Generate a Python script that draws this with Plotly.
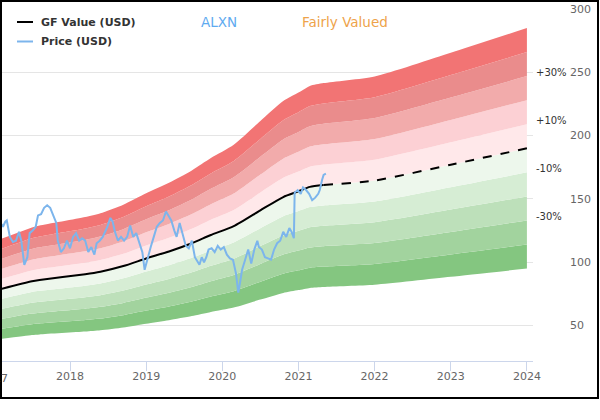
import plotly.graph_objects as go

# ---------------- data ----------------
gf_years = [2017.10, 2017.5, 2017.6, 2018.2, 2018.4, 2018.7, 2019.0, 2019.3, 2019.6,
            2019.85, 2020.15, 2020.5, 2020.8, 2021.0, 2021.15, 2021.33,
            2022.0, 2023.0, 2024.0]
gf_values = [79, 85, 86, 90.5, 92.5, 97, 103, 108.5, 115,
             121.5, 128.5, 141, 151.5, 156, 159.5, 161,
             164.5, 177, 190]
gf_split_year = 2021.33  # solid (history) -> dashed (projection)

price_years = [2017.08, 2017.12, 2017.15, 2017.17, 2017.21, 2017.25, 2017.29, 2017.33, 2017.36,
               2017.40, 2017.44, 2017.47, 2017.51, 2017.55, 2017.58, 2017.62, 2017.66, 2017.70,
               2017.74, 2017.78, 2017.82, 2017.84, 2017.88, 2017.92, 2017.96, 2018.00, 2018.04,
               2018.08, 2018.12, 2018.16, 2018.20, 2018.24, 2018.28, 2018.32, 2018.35, 2018.39,
               2018.43, 2018.49, 2018.53, 2018.56, 2018.59, 2018.63, 2018.67, 2018.71, 2018.75,
               2018.79, 2018.83, 2018.87, 2018.91, 2018.95, 2018.98, 2019.02, 2019.06, 2019.10,
               2019.14, 2019.18, 2019.22, 2019.26, 2019.29, 2019.33, 2019.37, 2019.40, 2019.44,
               2019.48, 2019.52, 2019.56, 2019.60, 2019.64, 2019.68, 2019.70, 2019.73, 2019.76,
               2019.79, 2019.82, 2019.86, 2019.90, 2019.94, 2019.98, 2020.02, 2020.06, 2020.10,
               2020.14, 2020.18, 2020.21, 2020.23, 2020.26, 2020.30, 2020.34, 2020.38, 2020.42,
               2020.46, 2020.48, 2020.52, 2020.56, 2020.60, 2020.64, 2020.68, 2020.72, 2020.76,
               2020.80, 2020.84, 2020.88, 2020.91, 2020.94, 2020.95, 2020.99, 2021.03, 2021.06,
               2021.10, 2021.14, 2021.18, 2021.22, 2021.26, 2021.28, 2021.31, 2021.33, 2021.36]
price_values = [132, 128, 132, 133, 120, 116, 117, 124, 117,
                98, 104, 123, 125, 128, 137, 138, 143, 145,
                143, 137, 131, 117, 108, 111, 117, 111, 120,
                123, 117, 119, 117, 108, 112, 106, 115, 117,
                120, 128, 135, 132, 124, 117, 120, 117, 120,
                129, 120, 123, 115, 108, 94, 104, 112, 120,
                128, 131, 133, 140, 137, 133, 125, 120, 131,
                121, 113, 111, 117, 104, 100, 98, 104, 100,
                104, 110, 111, 108, 113, 110, 112, 106, 103,
                102, 91, 76, 83, 94, 102, 110, 99, 110,
                117, 112, 110, 104, 103, 102, 110, 115, 117,
                124, 120, 127, 124, 119, 155, 157, 154, 159,
                157, 154, 149, 151, 154, 157, 165, 169, 170]

band_steps = [-0.5, -0.4, -0.3, -0.2, -0.1, 0.0, 0.1, 0.2, 0.3, 0.4, 0.5]
band_colors = ["#84c680", "#a2d39e", "#bde0ba", "#d6edd4", "#edf7ec",
               "#ffe8ea", "#fcd0d4", "#f2abab", "#ea8c8c", "#f27474"]
band_labels = {0.3: "+30%", 0.1: "+10%", -0.1: "-10%", -0.3: "-30%"}

x_ticks = [2018, 2019, 2020, 2021, 2022, 2023, 2024]
y_ticks = [50, 100, 150, 200, 250, 300]
x_range = [2017.107, 2024.08]
y_range = [22, 300]

title_ticker = "ALXN"
title_status = "Fairly Valued"

FONT = "DejaVu Sans"
W, H = 600, 400
ML, MR, MT, MB = 2, 67, 9, 39

fig = go.Figure()

# valuation bands
for i, step in enumerate(band_steps):
    ys = [v * (1 + step) for v in gf_values]
    fig.add_trace(go.Scatter(
        x=gf_years, y=ys, mode="lines",
        line=dict(width=0, shape="spline", smoothing=0.6),
        fill=None if i == 0 else "tonexty",
        fillcolor=None if i == 0 else band_colors[i - 1],
        hoverinfo="skip", showlegend=False))

# GF value line: solid history, dashed projection
hist_x = [x for x in gf_years if x <= gf_split_year]
hist_y = [v for x, v in zip(gf_years, gf_values) if x <= gf_split_year]
proj_x = [x for x in gf_years if x >= gf_split_year]
proj_y = [v for x, v in zip(gf_years, gf_values) if x >= gf_split_year]
fig.add_trace(go.Scatter(x=hist_x, y=hist_y, mode="lines",
                         line=dict(color="#000000", width=2, shape="spline", smoothing=0.6),
                         showlegend=False))
fig.add_trace(go.Scatter(x=proj_x, y=proj_y, mode="lines",
                         line=dict(color="#000000", width=2, dash="dash", shape="spline", smoothing=0.6),
                         showlegend=False))

# price line
fig.add_trace(go.Scatter(x=price_years, y=price_values, mode="lines",
                         line=dict(color="#7cb5ec", width=2),
                         showlegend=False))

pw = W - ML - MR
ph = H - MT - MB

annotations = []
shapes = []

# manual legend
legend_items = [("GF Value (USD)", "#000000"), ("Price (USD)", "#7cb5ec")]
for k, (name, col) in enumerate(legend_items):
    ypx = 22 + 19.5 * k
    yp = 1 - (ypx - MT) / ph
    shapes.append(dict(type="line", xref="paper", yref="paper",
                       x0=(17 - ML) / pw, x1=(33 - ML) / pw, y0=yp, y1=yp,
                       line=dict(color=col, width=2)))
    annotations.append(dict(text=name, xref="paper", yref="paper",
                            x=(39 - ML) / pw, y=yp, xanchor="left", yanchor="middle",
                            showarrow=False,
                            font=dict(family=FONT, size=11, color="#333333", weight="bold")))

# titles
yp_title = 1 - (22 - MT) / ph
annotations.append(dict(text=title_ticker, xref="paper", yref="paper",
                        x=(199 - ML) / pw, y=yp_title, xanchor="left", yanchor="middle",
                        showarrow=False, font=dict(family=FONT, size=13.5, color="#5eaaf0")))
annotations.append(dict(text=title_status, xref="paper", yref="paper",
                        x=(300 - ML) / pw, y=yp_title, xanchor="left", yanchor="middle",
                        showarrow=False, font=dict(family=FONT, size=13.5, color="#eea34a")))

# band labels at right end
for step, lab in band_labels.items():
    annotations.append(dict(text=lab, xref="paper", yref="y",
                            x=1, y=gf_values[-1] * (1 + step), xanchor="left", yanchor="middle",
                            xshift=1, yshift=4, showarrow=False,
                            font=dict(family=FONT, size=10, color="#333333")))

# partial 2017 tick label on the left edge
annotations.append(dict(text="2017", xref="paper", yref="paper",
                        x=(2017 - x_range[0]) / (x_range[1] - x_range[0]), y=0,
                        xanchor="center", yanchor="top", yshift=-9, showarrow=False,
                        font=dict(family=FONT, size=11, color="#666666")))

# outer border
shapes.append(dict(type="rect", xref="paper", yref="paper",
                   x0=(-ML + 1) / pw, x1=1 + (MR - 2) / pw,
                   y0=-(MB - 2) / ph, y1=1 + (MT - 1) / ph,
                   line=dict(color="#000000", width=2), fillcolor="rgba(0,0,0,0)", layer="above"))

fig.update_layout(
    width=W, height=H,
    margin=dict(l=ML, r=MR, t=MT, b=MB, pad=0),
    paper_bgcolor="#ffffff", plot_bgcolor="#ffffff",
    font=dict(family=FONT, size=11, color="#666666"),
    showlegend=False,
    annotations=annotations, shapes=shapes,
    xaxis=dict(range=x_range, tickmode="array", tickvals=x_ticks,
               ticktext=[str(t) for t in x_ticks],
               showgrid=False, zeroline=False,
               showline=True, linecolor="#ccd6eb", linewidth=1,
               ticks="outside", ticklen=9, tickcolor="#ccd6eb", tickwidth=1,
               ticklabelstandoff=-4,
               tickfont=dict(family=FONT, size=11, color="#666666")),
    yaxis=dict(range=y_range, side="right", tickmode="array", tickvals=y_ticks,
               showgrid=True, gridcolor="rgba(0,0,0,0.1)", gridwidth=1,
               zeroline=False, showline=False, ticks="",
               ticklabelstandoff=36, layer="above traces",
               tickfont=dict(family=FONT, size=11, color="#666666")),
)

fig.write_html("out.html", config={"displayModeBar": False},
               post_script="document.body.style.margin='0';")
